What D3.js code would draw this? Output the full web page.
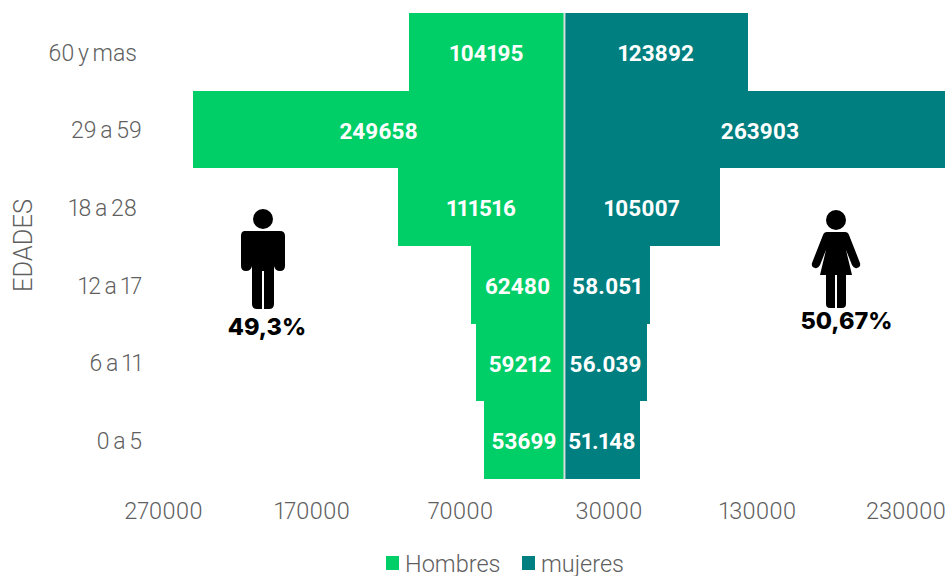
<!DOCTYPE html>
<html>
<head>
<meta charset="utf-8">
<script src="https://d3js.org/d3.v7.min.js"></script>
<style>
  html, body { margin: 0; background: #fff; }
  svg { display: block; }
  text { font-family: Roboto, sans-serif; font-feature-settings: "pnum"; }
</style>
</head>
<body>
<svg width="945" height="576">
  <defs><filter id="soft"><feGaussianBlur stdDeviation="0.6"></feGaussianBlur></filter></defs>
</svg>
<script>
// top band first
const ages = ["60 y mas", "29 a 59", "18 a 28", "12 a 17", "6 a 11", "0 a 5"];
const hombres = [104195, 249658, 111516, 62480, 59212, 53699];
const mujeres = [123892, 263903, 105007, 58051, 56039, 51148];
const hombresLabels = ["104195", "249658", "111516", "62480", "59212", "53699"];
const mujeresLabels = ["123892", "263903", "105007", "58.051", "56.039", "51.148"];
const xTicks = [-270000, -170000, -70000, 30000, 130000, 230000];

const green = "#00ce67", teal = "#007f80", grey = "#5f5f5f";

const svg = d3.select("svg");
const x = d3.scaleLinear().domain([-270000, 230000]).range([163, 905.5]);
const y = d3.scaleBand().domain(ages).range([13, 479]);

function bars(values, labels, color, left) {
  const g = svg.append("g");
  g.selectAll("rect").data(values).enter().append("rect")
    .attr("x", d => left ? x(-d) : x(0))
    .attr("y", (d, i) => y(ages[i]))
    .attr("width", d => Math.abs(x(d) - x(0)))
    .attr("height", y.bandwidth())
    .attr("fill", color)
    .attr("shape-rendering", "crispEdges");
  g.selectAll("text").data(values).enter().append("text")
    .attr("x", d => left ? (x(-d) + x(0)) / 2 : (x(d) + x(0)) / 2)
    .attr("y", (d, i) => y(ages[i]) + y.bandwidth() / 2)
    .attr("dy", "0.4em")
    .attr("text-anchor", "middle")
    .attr("fill", "#fff")
    .style("font-size", "22.5px")
    .style("font-weight", 700)
    .text((d, i) => labels[i]);
}
bars(hombres, hombresLabels, green, true);
bars(mujeres, mujeresLabels, teal, false);

// divider between both sides
svg.append("line")
  .attr("x1", x(0) + 0.5).attr("x2", x(0) + 0.5)
  .attr("y1", y.range()[0]).attr("y2", y.range()[1])
  .attr("stroke", "#d5dedb").attr("stroke-width", 2);

const xAxis = svg.append("g")
  .attr("transform", "translate(0,502.5)")
  .call(d3.axisBottom(x).tickValues(xTicks).tickSize(0).tickPadding(0).tickFormat(d => Math.abs(d)));
xAxis.select(".domain").remove();
xAxis.selectAll("text").attr("fill", grey).style("font-size", "23.5px").style("font-weight", 300);

const yAxis = svg.append("g")
  .attr("transform", "translate(142,1.5)")
  .call(d3.axisLeft(y).tickSize(0).tickPadding(0));
yAxis.select(".domain").remove();
yAxis.selectAll("text").attr("fill", grey).style("font-size", "23px").style("font-weight", 300)
  .style("word-spacing", "-2px")
  .attr("dx", d => (d === "60 y mas" || d === "18 a 28") ? -5 : 0);

svg.append("text")
  .attr("transform", "translate(32,245.5) rotate(-90)")
  .attr("text-anchor", "middle")
  .attr("fill", grey)
  .style("font-size", "25.5px")
  .style("font-weight", 300)
  .text("EDADES");

// person icons
const man = svg.append("g").attr("fill", "#000").attr("filter", "url(#soft)");
man.append("circle").attr("cx", 263).attr("cy", 219).attr("r", 10);
man.append("path").attr("d", "M245,231H280Q285,231 285,236V266Q285,271 280,271Q275,271 274,266V304Q274,309 269,309H264V271H262V309H257Q252,309 252,304V266Q251,271 246,271Q241,271 241,266V236Q241,231 245,231Z");

const woman = svg.append("g").attr("fill", "#000").attr("filter", "url(#soft)");
woman.append("circle").attr("cx", 836).attr("cy", 220).attr("r", 10);
woman.append("path").attr("d", "M827,232H845Q848,232 849,235L860,263Q861,267 857,268Q854,269 852,265L846,250L852,275H846V304Q846,308 842,308H837V275H835V308H830Q826,308 826,304V275H820L826,250L820,265Q818,269 815,268Q811,267 812,263L823,235Q824,232 827,232Z");

svg.selectAll("text.pct").data([["49,3%", 267, 335], ["50,67%", 846.5, 329]]).enter().append("text")
  .attr("class", "pct")
  .attr("x", d => d[1]).attr("y", d => d[2])
  .attr("text-anchor", "middle")
  .attr("fill", "#000")
  .style("font-family", "Inter, sans-serif")
  .style("font-size", "23.5px")
  .style("font-weight", 800)
  .text(d => d[0]);

// legend
const legend = svg.selectAll("g.lg").data([["Hombres", green, 386], ["mujeres", teal, 522]]).enter().append("g")
  .attr("class", "lg")
  .attr("transform", d => `translate(${d[2]},556)`);
legend.append("rect").attr("width", 13).attr("height", 14).attr("fill", d => d[1]);
legend.append("text")
  .attr("x", 19).attr("y", 15.5)
  .attr("fill", grey)
  .style("font-size", "23.5px")
  .style("font-weight", 300)
  .text(d => d[0]);
</script>
</body>
</html>
